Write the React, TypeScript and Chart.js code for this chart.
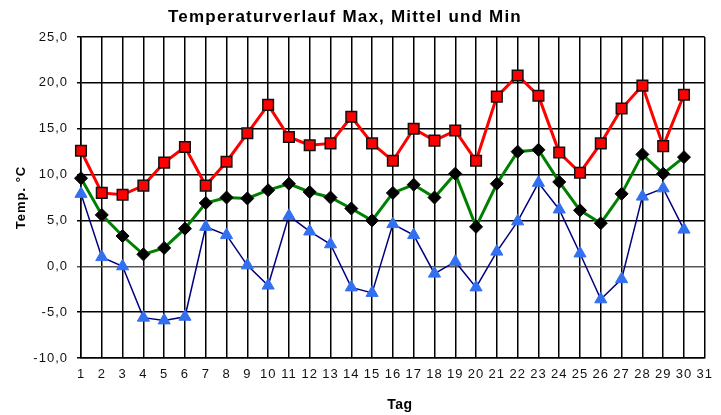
import React, { useEffect, useRef } from "react";
import { Chart, registerables } from "chart.js";

Chart.register(...registerables);

const days = [1,2,3,4,5,6,7,8,9,10,11,12,13,14,15,16,17,18,19,20,21,22,23,24,25,26,27,28,29,30];
const maxTemp = [12.6,8.0,7.8,8.8,11.3,13.0,8.8,11.4,14.5,17.6,14.1,13.2,13.4,16.3,13.4,11.5,15.0,13.7,14.8,11.5,18.5,20.8,18.6,12.4,10.2,13.4,17.2,19.7,13.1,18.7];
const meanTemp = [9.6,5.6,3.3,1.3,2.0,4.1,6.9,7.5,7.4,8.3,9.0,8.1,7.5,6.3,5.0,8.0,8.9,7.5,10.1,4.3,9.0,12.5,12.7,9.2,6.1,4.7,7.9,12.2,10.1,11.9];
const minTemp = [7.9,1.0,0.0,-5.6,-5.9,-5.5,4.3,3.4,0.1,-2.1,5.5,3.8,2.4,-2.3,-2.9,4.6,3.4,-0.8,0.5,-2.3,1.6,4.9,9.1,6.2,1.4,-3.6,-1.4,7.6,8.5,4.0];

const titleText = "Temperaturverlauf Max, Mittel und Min";
const yTitle = "Temp. °C";
const xTitle = "Tag";
const yMin = -10, yMax = 25, yStep = 5;
const xMin = 1, xMax = 31;

const FONT = "'Liberation Sans', Arial, sans-serif";

export default function App() {
  const ref = useRef<HTMLCanvasElement | null>(null);
  useEffect(() => {
    if (!ref.current) return;
    const pts = (arr: number[]) => arr.map((v, i) => ({ x: days[i], y: v }));
    const titlePlugin = {
      id: "customTitle",
      beforeDraw(chart: any) {
        (chart.ctx as any).letterSpacing = "1px";
      },
      afterDraw(chart: any) {
        const ctx = chart.ctx;
        ctx.save();
        (ctx as any).letterSpacing = "1.2px";
        ctx.font = `bold 17px ${FONT}`;
        ctx.fillStyle = "#000";
        ctx.textAlign = "center";
        ctx.textBaseline = "middle";
        ctx.fillText(titleText, 345, 17);
        (ctx as any).letterSpacing = "0.5px";
        ctx.font = `bold 14px ${FONT}`;
        ctx.fillText(xTitle, 400, 405);
        ctx.restore();
      },
    };
    const chart = new Chart(ref.current, {
      type: "line",
      data: {
        datasets: [
          {
            label: "Max",
            data: pts(maxTemp),
            borderColor: "#ff0000",
            borderWidth: 3,
            pointStyle: "rect",
            pointRadius: 7.5,
            pointBackgroundColor: "#ff0000",
            pointBorderColor: "#111",
            pointBorderWidth: 1.5,
            clip: false,
          },
          {
            label: "Mittel",
            data: pts(meanTemp),
            borderColor: "#008000",
            borderWidth: 3,
            pointStyle: "rectRot",
            pointRadius: 6.5,
            pointBackgroundColor: "#000",
            pointBorderColor: "#000",
            pointBorderWidth: 1,
            clip: false,
          },
          {
            label: "Min",
            data: pts(minTemp),
            borderColor: "#000080",
            borderWidth: 1.5,
            pointStyle: "triangle",
            pointRadius: 7,
            pointBackgroundColor: "#3370f0",
            pointBorderColor: "#3370f0",
            pointBorderWidth: 1,
            clip: false,
          },
        ],
      },
      options: {
        animation: false,
        responsive: false,
        events: [],
        layout: { padding: { top: 37, right: 9, left: 0, bottom: 0 } },
        plugins: { legend: { display: false }, title: { display: false }, tooltip: { enabled: false } },
        scales: {
          x: {
            type: "linear",
            min: xMin,
            max: xMax,
            afterFit: (s: any) => { s.height = 57; },
            afterBuildTicks: (s: any) => {
              const t = [];
              for (let v = xMin; v <= xMax; v++) t.push({ value: v });
              s.ticks = t;
            },
            ticks: {
              stepSize: 1,
              autoSkip: false,
              maxRotation: 0,
              padding: 9,
              color: "#111",
              font: { family: FONT, size: 13 },
              callback: (v: any) => String(v),
            },
            grid: { color: "#000", lineWidth: 1.5, drawTicks: false },
            border: { color: "#000", width: 1.5 },
            title: { display: false },
          },
          y: {
            min: yMin,
            max: yMax,
            afterFit: (s: any) => { s.width = 81; },
            ticks: {
              stepSize: yStep,
              padding: 9,
              color: "#111",
              font: { family: FONT, size: 13 },
              callback: (v: any) => Number(v).toFixed(1).replace(".", ","),
            },
            grid: {
              color: (c: any) => (c.tick && c.tick.value === 0 ? "#555" : "#000"),
              lineWidth: 1.5,
              tickLength: 4,
            },
            border: { color: "#000", width: 1.5 },
            title: {
              display: true,
              text: yTitle,
              color: "#000",
              font: { family: FONT, size: 13, weight: "bold" },
              padding: { top: 14, bottom: 0 },
            },
          },
        },
      },
      plugins: [titlePlugin],
    } as any);
    return () => chart.destroy();
  }, []);
  return (
    <div style={{ position: "absolute", left: 0, top: 0, width: 721, height: 415, background: "#fff" }}>
      <canvas ref={ref} width={721} height={415} />
    </div>
  );
}
